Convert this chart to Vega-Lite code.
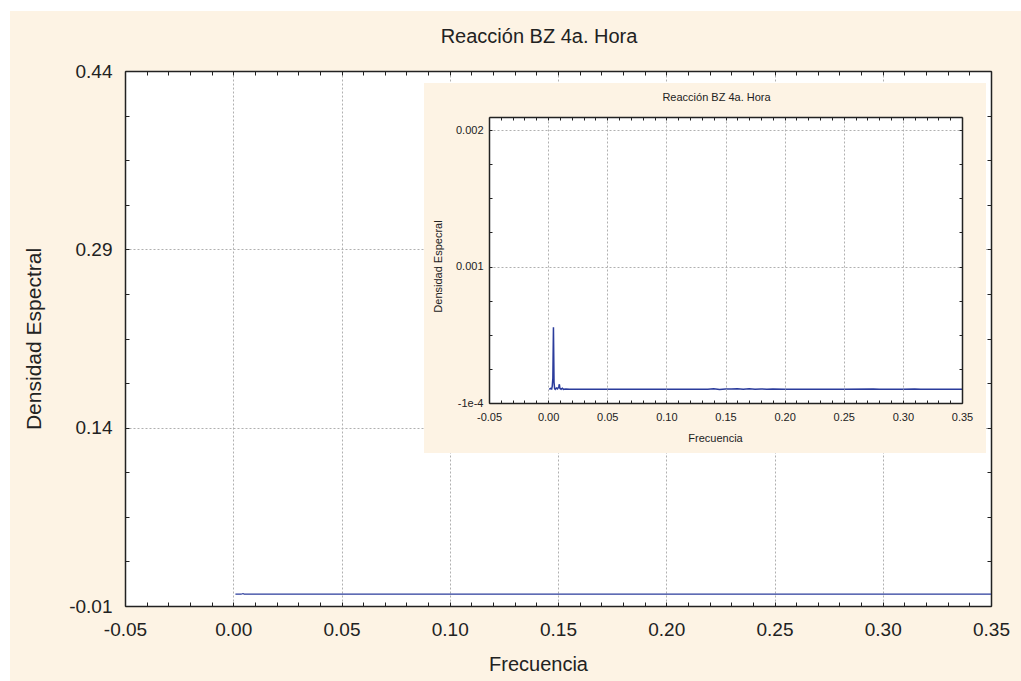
{
  "$schema": "https://vega.github.io/schema/vega-lite/v6.json",
  "width": 866,
  "height": 535,
  "autosize": {"type": "none"},
  "padding": {"left": 125, "top": 71, "right": 30, "bottom": 75},
  "background": "#fdf3e4",
  "config": {"view": {"fill": "white", "stroke": null}, "font": "Liberation Sans"},
  "data": {"values": [
    {"f": 0.001, "d": 0.000005},
    {"f": 0.002, "d": 0.000012},
    {"f": 0.003, "d": 0.000008},
    {"f": 0.0035, "d": 0.00003},
    {"f": 0.004, "d": 0.00009},
    {"f": 0.0045, "d": 0.000483},
    {"f": 0.005, "d": 0.00006},
    {"f": 0.0055, "d": 0.00001},
    {"f": 0.006, "d": 0.000005},
    {"f": 0.007, "d": 0.000015},
    {"f": 0.008, "d": 0.000008},
    {"f": 0.009, "d": 0.000025},
    {"f": 0.0095, "d": 0.000044},
    {"f": 0.01, "d": 0.000012},
    {"f": 0.011, "d": 0.000006},
    {"f": 0.012, "d": 0.000014},
    {"f": 0.013, "d": 0.000005},
    {"f": 0.015, "d": 0.000008},
    {"f": 0.018, "d": 0.000005},
    {"f": 0.025, "d": 0.0000055},
    {"f": 0.04, "d": 0.000005},
    {"f": 0.06, "d": 0.0000055},
    {"f": 0.08, "d": 0.000005},
    {"f": 0.1, "d": 0.0000052},
    {"f": 0.12, "d": 0.000005},
    {"f": 0.135, "d": 0.000006},
    {"f": 0.14, "d": 0.000009},
    {"f": 0.145, "d": 0.000004},
    {"f": 0.15, "d": 0.000008},
    {"f": 0.155, "d": 0.000007},
    {"f": 0.16, "d": 0.00001},
    {"f": 0.165, "d": 0.000006},
    {"f": 0.17, "d": 0.000009},
    {"f": 0.175, "d": 0.000005},
    {"f": 0.18, "d": 0.0000085},
    {"f": 0.185, "d": 0.000006},
    {"f": 0.19, "d": 0.0000075},
    {"f": 0.2, "d": 0.000005},
    {"f": 0.22, "d": 0.0000055},
    {"f": 0.25, "d": 0.000005},
    {"f": 0.275, "d": 0.0000075},
    {"f": 0.28, "d": 0.000005},
    {"f": 0.3, "d": 0.0000052},
    {"f": 0.31, "d": 0.000008},
    {"f": 0.315, "d": 0.0000065},
    {"f": 0.32, "d": 0.000005},
    {"f": 0.335, "d": 0.0000055},
    {"f": 0.35, "d": 0.000005}
  ]},
  "resolve": {"scale": {"x": "independent", "y": "independent"}},
  "layer": [
    {
      "mark": {"type": "line", "color": "#2b3c9c", "strokeWidth": 1.2},
      "encoding": {
        "x": {"field": "f", "type": "quantitative",
          "scale": {"domain": [-0.05, 0.35], "nice": false, "zero": false},
          "axis": {"orient": "bottom", "zindex": 0,
            "values": [-0.05,-0.04,-0.03,-0.02,-0.01,0,0.01,0.02,0.03,0.04,0.05,0.06,0.07,0.08,0.09,0.1,0.11,0.12,0.13,0.14,0.15,0.16,0.17,0.18,0.19,0.2,0.21,0.22,0.23,0.24,0.25,0.26,0.27,0.28,0.29,0.3,0.31,0.32,0.33,0.34,0.35],
            "labelExpr": "abs(datum.value*20-round(datum.value*20))<0.01 ? replace(format(datum.value,'.2f'),'\u2212','-') : ''",
            "labelFontSize": 19, "labelColor": "#222222", "labelPadding": 18, "labelOverlap": false, "labelFlush": false, "labelBound": false,
            "tickSize": -4, "tickColor": "#222222", "tickWidth": 1,
            "domainColor": "#222222", "domainWidth": 1.5,
            "grid": true, "gridDash": [2, 2], "gridColor": "#b0b0b0", "gridWidth": 1,
            "gridOpacity": {"condition": {"test": "abs(datum.value*20-round(datum.value*20))<0.01", "value": 1}, "value": 0},
            "title": "Frecuencia", "titleFontSize": 20, "titleFontWeight": "normal", "titleColor": "#222222",
            "titleX": 413, "titleY": 64, "titleBaseline": "alphabetic", "titleAlign": "center"}},
        "y": {"field": "d", "type": "quantitative",
          "scale": {"domain": [-0.01, 0.44], "nice": false, "zero": false},
          "axis": {"orient": "left", "zindex": 0,
            "values": [-0.01, 0.0275, 0.065, 0.1025, 0.14, 0.1775, 0.215, 0.2525, 0.29, 0.3275, 0.365, 0.4025, 0.44],
            "labelExpr": "abs((datum.value+0.01)/0.15-round((datum.value+0.01)/0.15))<0.01 ? replace(format(datum.value,'.2f'),'\u2212','-') : ''",
            "labelFontSize": 19, "labelColor": "#222222", "labelPadding": 17, "labelOverlap": false, "labelFlush": false, "labelBound": false,
            "tickSize": -4, "tickColor": "#222222", "tickWidth": 1,
            "domainColor": "#222222", "domainWidth": 1.5,
            "grid": true, "gridDash": [2, 2], "gridColor": "#b0b0b0", "gridWidth": 1,
            "gridOpacity": {"condition": {"test": "abs((datum.value+0.01)/0.15-round((datum.value+0.01)/0.15))<0.01", "value": 1}, "value": 0},
            "title": "Densidad Espectral", "titleFontSize": 21, "titleFontWeight": "normal", "titleColor": "#222222",
            "titleX": -85, "titleY": 267.5, "titleBaseline": "alphabetic", "titleAlign": "center"}}
      }
    },
    {
      "mark": {"type": "line", "opacity": 0},
      "encoding": {
        "x": {"field": "f", "type": "quantitative",
          "scale": {"domain": [-0.05, 0.35], "nice": false, "zero": false},
          "axis": {"orient": "top", "zindex": 0, "labels": false, "grid": false,
            "values": [-0.05,-0.04,-0.03,-0.02,-0.01,0,0.01,0.02,0.03,0.04,0.05,0.06,0.07,0.08,0.09,0.1,0.11,0.12,0.13,0.14,0.15,0.16,0.17,0.18,0.19,0.2,0.21,0.22,0.23,0.24,0.25,0.26,0.27,0.28,0.29,0.3,0.31,0.32,0.33,0.34,0.35],
            "tickSize": -4, "tickColor": "#222222", "domainColor": "#222222", "domainWidth": 1.5,
            "title": "Reacción BZ 4a. Hora", "titleFontSize": 20, "titleFontWeight": "normal", "titleColor": "#222222",
            "titleX": 413.5, "titleY": -28.5, "titleBaseline": "alphabetic", "titleAlign": "center"}},
        "y": {"field": "d", "type": "quantitative",
          "scale": {"domain": [-0.01, 0.44], "nice": false, "zero": false},
          "axis": {"orient": "right", "zindex": 0, "labels": false, "grid": false,
            "values": [-0.01, 0.0275, 0.065, 0.1025, 0.14, 0.1775, 0.215, 0.2525, 0.29, 0.3275, 0.365, 0.4025, 0.44],
            "tickSize": -4, "tickColor": "#222222", "domainColor": "#222222", "domainWidth": 1.5, "title": null}}
      }
    },
    {
      "data": {"values": [{}]},
      "mark": {"type": "rect", "color": "white"},
      "encoding": {
        "x": {"datum": -0.2, "type": "quantitative", "scale": {"domain": [-0.05, 0.35], "nice": false, "zero": false}, "axis": null},
        "x2": {"datum": -0.103118},
        "y": {"datum": 0.6, "type": "quantitative", "scale": {"domain": [-0.01, 0.44], "nice": false, "zero": false}, "axis": null},
        "y2": {"datum": -0.1}
      }
    },
    {
      "data": {"values": [{}]},
      "mark": {"type": "rect", "color": "white"},
      "encoding": {
        "x": {"datum": -0.2, "type": "quantitative", "scale": {"domain": [-0.05, 0.35], "nice": false, "zero": false}, "axis": null},
        "x2": {"datum": 0.5},
        "y": {"datum": 0.6, "type": "quantitative", "scale": {"domain": [-0.01, 0.44], "nice": false, "zero": false}, "axis": null},
        "y2": {"datum": 0.490467}
      }
    },
    {
      "data": {"values": [{}]},
      "mark": {"type": "rect", "color": "#fdf3e4"},
      "encoding": {
        "x": {"datum": -0.10497, "type": "quantitative", "scale": {"domain": [-0.05, 0.35], "range": [364, 837], "nice": false, "zero": false}, "axis": null},
        "x2": {"datum": 0.3703},
        "y": {"datum": 0.0023615, "type": "quantitative", "scale": {"domain": [-0.0001, 0.0021], "range": [332, 46], "nice": false, "zero": false}, "axis": null},
        "y2": {"datum": -0.0004846}
      }
    },
    {
      "data": {"values": [{}]},
      "mark": {"type": "rect", "color": "white"},
      "encoding": {
        "x": {"datum": -0.05, "type": "quantitative", "scale": {"domain": [-0.05, 0.35], "range": [364, 837], "nice": false, "zero": false}, "axis": null},
        "x2": {"datum": 0.35},
        "y": {"datum": 0.0021, "type": "quantitative", "scale": {"domain": [-0.0001, 0.0021], "range": [332, 46], "nice": false, "zero": false}, "axis": null},
        "y2": {"datum": -0.0001}
      }
    },
    {
      "mark": {"type": "line", "opacity": 0},
      "encoding": {
        "x": {"field": "f", "type": "quantitative",
          "scale": {"domain": [-0.05, 0.35], "range": [364, 837], "nice": false, "zero": false},
          "axis": {"orient": "bottom", "offset": -203, "zindex": 1, "labels": false, "ticks": false, "domain": false,
            "values": [-0.05,0,0.05,0.1,0.15,0.2,0.25,0.3,0.35],
            "grid": true, "gridDash": [2, 2], "gridColor": "#b0b0b0", "gridWidth": 1,
            "title": null}},
        "y": {"field": "d", "type": "quantitative",
          "scale": {"domain": [-0.0001, 0.0021], "range": [489, 203], "nice": false, "zero": false},
          "axis": null}
      }
    },
    {
      "mark": {"type": "line", "color": "#2b3c9c", "strokeWidth": 1.5},
      "encoding": {
        "x": {"field": "f", "type": "quantitative",
          "scale": {"domain": [-0.05, 0.35], "range": [364, 837], "nice": false, "zero": false},
          "axis": {"orient": "bottom", "offset": -203, "zindex": 1,
            "values": [-0.05,-0.04,-0.03,-0.02,-0.01,0,0.01,0.02,0.03,0.04,0.05,0.06,0.07,0.08,0.09,0.1,0.11,0.12,0.13,0.14,0.15,0.16,0.17,0.18,0.19,0.2,0.21,0.22,0.23,0.24,0.25,0.26,0.27,0.28,0.29,0.3,0.31,0.32,0.33,0.34,0.35],
            "labelExpr": "abs(datum.value*20-round(datum.value*20))<0.01 ? replace(format(datum.value,'.2f'),'\u2212','-') : ''",
            "labelFontSize": 11, "labelColor": "#222222", "labelPadding": 11, "labelOverlap": false, "labelFlush": false, "labelBound": false,
            "tickSize": -3, "tickColor": "#222222", "tickWidth": 1,
            "domainColor": "#222222", "domainWidth": 1.5,
            "grid": false,
            "title": "Frecuencia", "titleFontSize": 11, "titleFontWeight": "normal", "titleColor": "#222222",
            "titleX": 590, "titleY": 38, "titleBaseline": "alphabetic", "titleAlign": "center"}},
        "y": {"field": "d", "type": "quantitative",
          "scale": {"domain": [-0.0001, 0.0021], "range": [332, 46], "nice": false, "zero": false},
          "axis": {"orient": "left", "offset": -364, "zindex": 1,
            "values": [-0.0001, 0.0001625, 0.000425, 0.0006875, 0.00095, 0.0012125, 0.001475, 0.0017375, 0.002],
            "labelExpr": "abs((datum.value+0.0001)/0.00105-round((datum.value+0.0001)/0.00105))<0.01 ? (datum.value<0 ? '-1e-4' : format(datum.value,'.3f')) : ''",
            "labelFontSize": 11, "labelColor": "#222222", "labelPadding": 9, "labelOverlap": false, "labelFlush": false, "labelBound": false,
            "tickSize": -3, "tickColor": "#222222", "tickWidth": 1,
            "domainColor": "#222222", "domainWidth": 1.5,
            "grid": true, "gridDash": [2, 2], "gridColor": "#b0b0b0", "gridWidth": 1,
            "gridOpacity": {"condition": {"test": "abs((datum.value+0.0001)/0.00105-round((datum.value+0.0001)/0.00105))<0.01", "value": 1}, "value": 0},
            "title": "Densidad Especral", "titleFontSize": 11, "titleFontWeight": "normal", "titleColor": "#222222",
            "titleX": -48, "titleY": 195, "titleBaseline": "alphabetic", "titleAlign": "center"}}
      }
    },
    {
      "mark": {"type": "line", "opacity": 0},
      "encoding": {
        "x": {"field": "f", "type": "quantitative",
          "scale": {"domain": [-0.05, 0.35], "range": [364, 837], "nice": false, "zero": false},
          "axis": {"orient": "top", "offset": -46, "zindex": 1, "labels": false, "grid": false,
            "values": [-0.05,-0.04,-0.03,-0.02,-0.01,0,0.01,0.02,0.03,0.04,0.05,0.06,0.07,0.08,0.09,0.1,0.11,0.12,0.13,0.14,0.15,0.16,0.17,0.18,0.19,0.2,0.21,0.22,0.23,0.24,0.25,0.26,0.27,0.28,0.29,0.3,0.31,0.32,0.33,0.34,0.35],
            "tickSize": -3, "tickColor": "#222222", "domainColor": "#222222", "domainWidth": 1.5,
            "title": "Reacción BZ 4a. Hora", "titleFontSize": 11, "titleFontWeight": "normal", "titleColor": "#222222",
            "titleX": 591, "titleY": -17, "titleBaseline": "alphabetic", "titleAlign": "center"}},
        "y": {"field": "d", "type": "quantitative",
          "scale": {"domain": [-0.0001, 0.0021], "range": [332, 46], "nice": false, "zero": false},
          "axis": {"orient": "right", "offset": -29, "zindex": 1, "labels": false, "grid": false,
            "values": [-0.0001, 0.0001625, 0.000425, 0.0006875, 0.00095, 0.0012125, 0.001475, 0.0017375, 0.002],
            "tickSize": -3, "tickColor": "#222222", "domainColor": "#222222", "domainWidth": 1.5, "title": null}}
      }
    }
  ]
}
